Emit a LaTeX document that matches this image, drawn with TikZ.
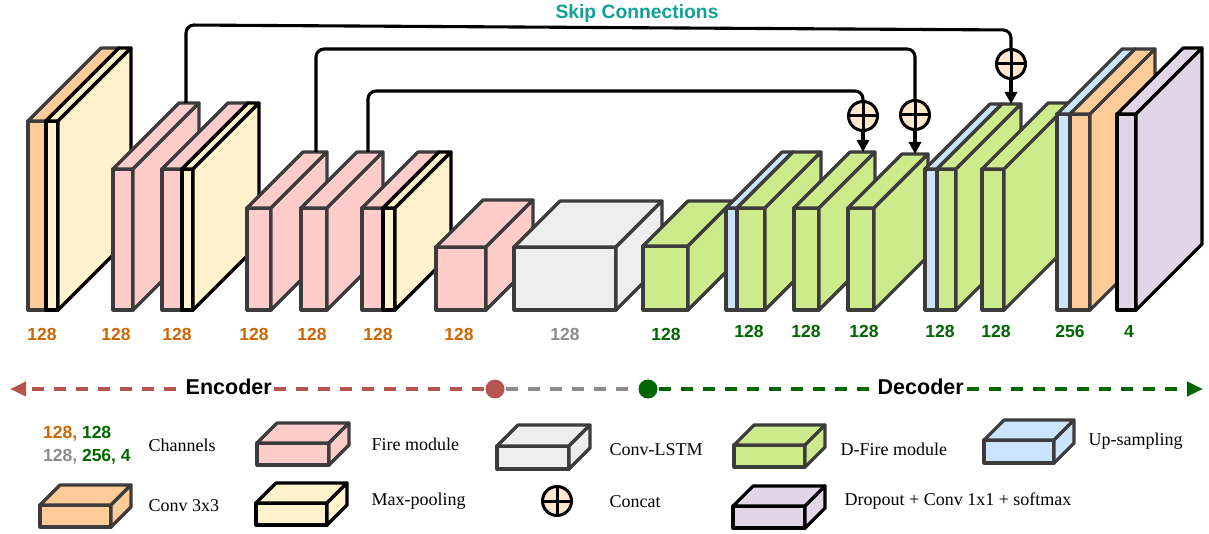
\documentclass[tikz,border=0pt]{standalone}
\usepackage{fontspec}
\setmainfont{Liberation Serif}
\newfontfamily\arialfont{Liberation Sans}
\usetikzlibrary{arrows.meta}
\definecolor{cOrange}{HTML}{FFCC99}
\definecolor{cYellow}{HTML}{FFF2CC}
\definecolor{cPink}{HTML}{FFCCCC}
\definecolor{cGray}{HTML}{EEEEEE}
\definecolor{cGreen}{HTML}{CDEB8B}
\definecolor{cBlue}{HTML}{CCE5FF}
\definecolor{cPurple}{HTML}{E1D5E7}
\definecolor{cPeach}{HTML}{FFE6CC}
\definecolor{cEdge}{HTML}{3C3C3C}
\definecolor{tOrange}{HTML}{CC6600}
\definecolor{tGreen}{HTML}{006600}
\definecolor{tGray}{HTML}{8C8C8C}
\definecolor{tTeal}{RGB}{16,160,150}
\definecolor{cRed}{HTML}{B85450}
\newcommand\blockbox[7]{%
  \filldraw[fill=#6,draw=#7] (#1,#3) rectangle (#2,#4);
  \filldraw[fill=#6,draw=#7] (#1,#3) -- (#1+#5,#3-#5) -- (#2+#5,#3-#5) -- (#2,#3) -- cycle;
  \filldraw[fill=#6,draw=#7] (#2,#3) -- (#2+#5,#3-#5) -- (#2+#5,#4-#5) -- (#2,#4) -- cycle;
}
\tikzset{
  lab/.style={font=\arialfont\bfseries\fontsize{17.5}{20}\selectfont, inner sep=0pt},
  legtext/.style={font=\fontsize{18}{20}\selectfont, inner sep=0pt, anchor=base west},
  concat/.style={circle, draw=black, fill=cPeach, line width=3pt, minimum size=29pt, inner sep=0pt,
    path picture={\draw[line width=3pt] (path picture bounding box.north) -- (path picture bounding box.south)
      (path picture bounding box.west) -- (path picture bounding box.east);}},
  skip/.style={line width=3.1pt, draw=black, rounded corners=8pt},
  skiparrow/.style={line width=3.1pt, draw=black, -{Triangle[length=12pt,width=12pt]}},
  axisline/.style={line width=4pt, dash pattern=on 12pt off 10pt},
  dot/.style={circle, minimum size=19pt, inner sep=0pt},
  axtext/.style={font=\arialfont\bfseries\fontsize{21.5}{24}\selectfont, fill=white, inner sep=0.5pt}
}
\begin{document}
\begin{tikzpicture}[x=1pt,y=-1pt,line width=3.2pt,line join=round]
\useasboundingbox (0,0) rectangle (1209,534);
% ---- encoder blocks ----
\blockbox{28}{46}{121}{310}{73}{cOrange}{cEdge}
\blockbox{46}{58}{121}{310}{73}{cYellow}{black}
\blockbox{113}{133}{169}{310}{66}{cPink}{cEdge}
\blockbox{162}{182}{169}{310}{66}{cPink}{cEdge}
\blockbox{182}{193}{169}{310}{66}{cYellow}{black}
\blockbox{247}{271}{208}{310}{56}{cPink}{cEdge}
\blockbox{301}{327}{208}{310}{56}{cPink}{cEdge}
\blockbox{362}{383}{208}{310}{56}{cPink}{cEdge}
\blockbox{383}{395}{208}{310}{56}{cYellow}{black}
\blockbox{436}{486}{247}{310}{47}{cPink}{cEdge}
\blockbox{514}{616}{247}{310}{46}{cGray}{cEdge}
% ---- decoder blocks ----
\blockbox{643}{688}{246}{310}{45}{cGreen}{cEdge}
\blockbox{726}{737}{208}{310}{56}{cBlue}{cEdge}
\blockbox{737}{765}{208}{310}{56}{cGreen}{cEdge}
\blockbox{794}{819}{208}{310}{56}{cGreen}{cEdge}
\blockbox{848}{874}{208}{310}{54}{cGreen}{cEdge}
\blockbox{925}{937}{169}{310}{65}{cBlue}{cEdge}
\blockbox{937}{956}{169}{310}{65}{cGreen}{cEdge}
\blockbox{982}{1004}{169}{310}{66}{cGreen}{cEdge}
\blockbox{1057}{1070}{114}{310}{65}{cBlue}{cEdge}
\blockbox{1070}{1090}{114}{310}{65}{cOrange}{cEdge}
\blockbox{1117}{1136}{114}{310}{66}{cPurple}{black}
% ---- block top anchors ----
\coordinate (Bt) at (186,103);
\coordinate (Dt) at (316,152);
\coordinate (Et) at (368,152);
\coordinate (Kt) at (863,152);
\coordinate (Lt) at (915,154);
\coordinate (Mt) at (1011,104);
% ---- skip connections ----
\node[concat] (cat1) at (1011,64) {};
\node[concat] (cat2) at (915,115) {};
\node[concat] (cat3) at (863,116) {};
\draw[skip] (Bt) -- (186,25) -- (1011,30) -- (cat1);
\draw[skip] (Dt) -- (316,49) -- (915,49) -- (cat2);
\draw[skip] (Et) -- (368,91) -- (863,91) -- (cat3);
\draw[skiparrow] (cat1) -- (Mt);
\draw[skiparrow] (cat2) -- (Lt);
\draw[skiparrow] (cat3) -- (Kt);
\node[lab, text=tTeal, font=\arialfont\bfseries\fontsize{19.3}{22}\selectfont] (skiplabel) at (637,14) {Skip Connections};
% ---- channel labels ----
\node[lab,text=tOrange] (lA) at (42,334) {128};
\node[lab,text=tOrange] (lB) at (116,334) {128};
\node[lab,text=tOrange] (lC) at (177,334) {128};
\node[lab,text=tOrange] (lD) at (254,334) {128};
\node[lab,text=tOrange] (lE) at (312,334) {128};
\node[lab,text=tOrange] (lF) at (378,334) {128};
\node[lab,text=tOrange] (lG) at (459,334) {128};
\node[lab,text=tGray]   (lH) at (565,334) {128};
\node[lab,text=tGreen]  (lI) at (666,334) {128};
\node[lab,text=tGreen]  (lJ) at (749,331) {128};
\node[lab,text=tGreen]  (lK) at (806,331) {128};
\node[lab,text=tGreen]  (lL) at (864,331) {128};
\node[lab,text=tGreen]  (lM) at (940,331) {128};
\node[lab,text=tGreen]  (lN) at (996,331) {128};
\node[lab,text=tGreen]  (lO) at (1070,331) {256};
\node[lab,text=tGreen]  (lP) at (1129,331) {4};
% ---- encoder / decoder axis ----
\node[dot, fill=cRed] (reddot) at (495,389) {};
\node[dot, fill=tGreen] (greendot) at (648,389) {};
\coordinate (encend) at (10,389);
\coordinate (decend) at (1203,389);
\draw[axisline, draw=cRed, -{Triangle[length=16pt,width=14pt]}] (reddot) -- (encend);
\draw[axisline, draw=tGray] (reddot) -- (greendot);
\draw[axisline, draw=tGreen, -{Triangle[length=16pt,width=14pt]}] (greendot) -- (decend);
\node[axtext] (enc) at (228.7,387) {Encoder};
\node[axtext] (dec) at (920.7,387) {Decoder};
% ---- legend ----
\node[legtext, font=\arialfont\bfseries\fontsize{17.5}{20}\selectfont] (ch1) at (41.5,438) {\textcolor{tOrange}{128,} \textcolor{tGreen}{128}};
\node[legtext, font=\arialfont\bfseries\fontsize{17.5}{20}\selectfont] (ch2) at (41.5,461.5) {\textcolor{tGray}{128,} \textcolor{tGreen}{256, 4}};
\node[legtext] (tch) at (147,451) {Channels};
\blockbox{257}{329}{443}{465}{20}{cPink}{cEdge}
\node[legtext] (tfire) at (370,450.5) {Fire module};
\blockbox{497}{569}{446}{469}{21}{cGray}{cEdge}
\node[legtext] (tlstm) at (608,455) {Conv-LSTM};
\blockbox{734}{805}{445}{467}{20}{cGreen}{cEdge}
\node[legtext] (tdfire) at (839,455) {D-Fire module};
\blockbox{984}{1054}{440}{463}{20}{cBlue}{cEdge}
\node[legtext] (tup) at (1087,445) {Up-sampling};
\blockbox{40}{111}{505}{527}{20}{cOrange}{cEdge}
\node[legtext] (tconv) at (147,511.5) {Conv 3x3};
\blockbox{256}{327}{503}{525}{20}{cYellow}{black}
\node[legtext] (tmax) at (370,505.5) {Max-pooling};
\node[concat] (catleg) at (557,501) {};
\node[legtext] (tcat) at (608,507) {Concat};
\blockbox{733}{805}{506}{528}{20}{cPurple}{black}
\node[legtext] (tdrop) at (843,505) {Dropout + Conv 1x1 + softmax};
\end{tikzpicture}
\end{document}
